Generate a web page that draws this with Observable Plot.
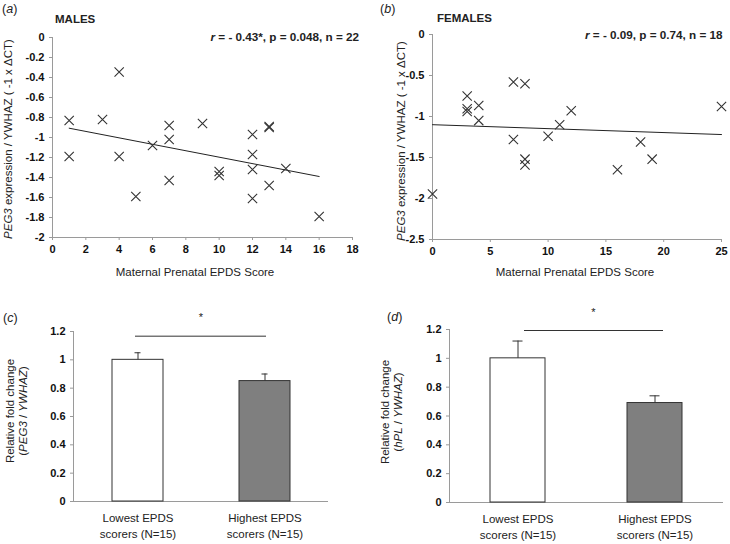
<!DOCTYPE html>
<html>
<head>
<meta charset="utf-8">
<script src="https://cdn.jsdelivr.net/npm/d3@7"></script>
<script src="https://cdn.jsdelivr.net/npm/@observablehq/plot@0.6"></script>
<style>
  html, body { margin: 0; padding: 0; background: #fff; }
  #root { position: relative; width: 730px; height: 544px; overflow: hidden; background: #fff;
          font-family: 'Liberation Sans', Arial, Helvetica, sans-serif; color: #222; }
  .panel { position: absolute; }
  .txt { position: absolute; white-space: nowrap; line-height: 1; }
</style>
</head>
<body>
<div id="root"></div>
<script>
// ---------- data ----------
const malesX = [1, 1, 3, 4, 4, 5, 6, 7, 7, 7, 9, 10, 10, 12, 12, 12, 12, 13, 13, 13, 14, 16];
const malesY = [-0.83, -1.19, -0.82, -0.345, -1.19, -1.59, -1.08, -0.88, -1.02, -1.43, -0.86, -1.34, -1.38, -0.97, -1.17, -1.32, -1.61, -0.89, -0.90, -1.48, -1.31, -1.79];
const trendMalesX = [1, 16];
const trendMalesY = [-0.907, -1.39];

const femalesX = [0, 3, 3, 3, 4, 4, 7, 7, 8, 8, 8, 10, 11, 12, 16, 18, 19, 25];
const femalesY = [-1.945, -0.75, -0.905, -0.94, -0.865, -1.05, -0.58, -1.28, -0.60, -1.52, -1.59, -1.24, -1.10, -0.93, -1.65, -1.31, -1.52, -0.877];
const trendFemalesX = [0, 25];
const trendFemalesY = [-1.10, -1.22];

const xTicksMales = [0, 2, 4, 6, 8, 10, 12, 14, 16, 18];
const yTicksMales = [0, -0.2, -0.4, -0.6, -0.8, -1, -1.2, -1.4, -1.6, -1.8, -2];
const xTicksFemales = [0, 5, 10, 15, 20, 25];
const yTicksFemales = [0, -0.5, -1, -1.5, -2, -2.5];

const barGroups = ["Lowest EPDS\nscorers (N=15)", "Highest EPDS\nscorers (N=15)"];
const peg3Mean = [1.0, 0.85];
const peg3Err = [0.05, 0.05];
const hplMean = [1.0, 0.69];
const hplErr = [0.12, 0.05];
const yTicksBars = [0, 0.2, 0.4, 0.6, 0.8, 1, 1.2];
const sigPeg3 = {line: 1.167, star: 1.30};
const sigHpl = {line: 1.193, star: 1.32};

// ---------- styles ----------
const FONT = "'Liberation Sans', Arial, Helvetica, sans-serif";
const AXIS = "#9a9a9a";
const INK = "#222";
const MARK = "#333";
const fmt = d => String(+d.toFixed(2));

const zip = (xs, ys) => xs.map((x, i) => ({x, y: ys[i]}));
const males = zip(malesX, malesY);
const females = zip(femalesX, femalesY);
const trendMales = zip(trendMalesX, trendMalesY);
const trendFemales = zip(trendFemalesX, trendFemalesY);
const barsPeg3 = barGroups.map((g, i) => ({group: g, value: peg3Mean[i], err: peg3Err[i]}));
const barsHpl = barGroups.map((g, i) => ({group: g, value: hplMean[i], err: hplErr[i]}));

const root = document.getElementById("root");

function place(el, left, top) {
  const w = document.createElement("div");
  w.className = "panel";
  w.style.left = left + "px";
  w.style.top = top + "px";
  w.appendChild(el);
  root.appendChild(w);
}

function txt(html, x, y, {anchor = "middle", rotate = 0, size = 11.5, weight = "normal", lh = 1} = {}) {
  const d = document.createElement("div");
  d.className = "txt";
  d.innerHTML = html;
  d.style.left = x + "px";
  d.style.top = y + "px";
  d.style.fontSize = size + "px";
  d.style.fontWeight = weight;
  d.style.lineHeight = lh;
  d.style.textAlign = "center";
  const tx = anchor === "start" ? "0" : anchor === "end" ? "-100%" : "-50%";
  d.style.transform = `translate(${tx}, -50%)` + (rotate ? ` rotate(${rotate}deg)` : "");
  root.appendChild(d);
}

function scatter(data, trend, xTicks, yTicks, xDomain, yDomain, m) {
  return Plot.plot({
    width: 365, height: 280,
    marginLeft: m[0], marginRight: m[1], marginTop: m[2], marginBottom: m[3],
    x: {domain: xDomain},
    y: {domain: yDomain},
    style: {fontFamily: FONT, fontSize: "11px", color: INK, background: "transparent", overflow: "visible"},
    marks: [
      Plot.ruleX([xDomain[0]], {stroke: AXIS}),
      Plot.ruleY([yDomain[0]], {stroke: AXIS}),
      Plot.axisY({ticks: yTicks, tickFormat: fmt, tickSize: 3, tickPadding: 5, stroke: AXIS, fill: "#111", fontWeight: "bold", fontSize: 11, label: null}),
      Plot.axisX({ticks: xTicks, tickFormat: fmt, tickSize: 3, tickPadding: 5, stroke: AXIS, fill: "#111", fontWeight: "bold", fontSize: 11, label: null}),
      Plot.line(trend, {x: "x", y: "y", stroke: INK, strokeWidth: 1}),
      Plot.dot(data, {x: "x", y: "y", symbol: "times", r: 4.3, stroke: MARK, strokeWidth: 1.1})
    ]
  });
}

function bars(data, sig, m, sigInsets, starDx) {
  return Plot.plot({
    width: 365, height: 254,
    marginLeft: m[0], marginRight: m[1], marginTop: m[2], marginBottom: m[3],
    x: {domain: barGroups, paddingInner: 0.6, paddingOuter: 0.3},
    y: {domain: [0, 1.2]},
    style: {fontFamily: FONT, fontSize: "11px", color: INK, background: "transparent", overflow: "visible"},
    marks: [
      Plot.frame({anchor: "left", stroke: AXIS}),
      Plot.ruleY([0], {stroke: AXIS}),
      Plot.axisY({ticks: yTicksBars, tickFormat: fmt, tickSize: 3, tickPadding: 5, stroke: AXIS, fill: "#111", fontWeight: "bold", fontSize: 11, label: null}),
      Plot.axisX({tickSize: 0, tickPadding: 9, fill: INK, fontSize: 11.5, lineHeight: 1.4, label: null}),
      Plot.barY(data.filter((d, i) => i === 0), {x: "group", y: "value", fill: "#ffffff", stroke: MARK, strokeWidth: 1}),
      Plot.barY(data.filter((d, i) => i === 1), {x: "group", y: "value", fill: "#7f7f7f", stroke: MARK, strokeWidth: 1}),
      Plot.ruleX(data, {x: "group", y1: "value", y2: d => d.value + d.err, stroke: MARK}),
      Plot.tickY(data, {x: "group", y: d => d.value + d.err, insetLeft: 22.5, insetRight: 22.5, stroke: MARK}),
      Plot.ruleY([sig], {y: "line", x1: () => barGroups[0], x2: () => barGroups[1], insetLeft: sigInsets[0], insetRight: sigInsets[1], stroke: MARK}),
      Plot.text([sig], {y: "star", text: () => "*", dx: starDx, fontSize: 11, fill: INK})
    ]
  });
}

place(scatter(males, trendMales, xTicksMales, yTicksMales, [0, 18], [-2, 0], [52, 13, 37, 43]), 0, 0);
place(scatter(females, trendFemales, xTicksFemales, yTicksFemales, [0, 25], [-2.5, 0], [67, 9, 34, 41]), 365, 0);
place(bars(barsPeg3, sigPeg3, [73, 37, 41, 43], [23, 24], 0), 0, 290);
place(bars(barsHpl, sigHpl, [84, 7, 39, 42], [34, 19], 7), 365, 290);

// ---------- text ----------
txt("(<i>a</i>)", 2, 9, {anchor: "start", size: 12.5});
txt("MALES", 55, 20, {anchor: "start", weight: "bold"});
txt("<i>r</i> = - 0.43*, p = 0.048, n = 22", 359, 37, {anchor: "end", weight: "bold", size: 11.7});
txt("<i>PEG3</i> expression / YWHAZ ( -1 x ΔCT)", 8.5, 139, {rotate: -90});
txt("Maternal Prenatal EPDS Score", 195, 273);

txt("(<i>b</i>)", 380, 9, {anchor: "start", size: 12.5});
txt("FEMALES", 437, 19, {anchor: "start", weight: "bold"});
txt("<i>r</i> = - 0.09, p = 0.74, n = 18", 722.5, 34.5, {anchor: "end", weight: "bold", size: 11.7});
txt("<i>PEG3</i> expression / YWHAZ ( -1 x ΔCT)", 401.5, 141, {rotate: -90});
txt("Maternal Prenatal EPDS Score", 575, 273);

txt("(<i>c</i>)", 3, 318, {anchor: "start", size: 12.5});
txt("Relative fold change<br>(<i>PEG3</i> / <i>YWHAZ</i>)", 16.7, 411, {rotate: -90, lh: 1.16});

txt("(<i>d</i>)", 387, 317, {anchor: "start", size: 12.5});
txt("Relative fold change<br>(<i>hPL</i> / <i>YWHAZ</i>)", 391.7, 412, {rotate: -90, lh: 1.16});
</script>
</body>
</html>
